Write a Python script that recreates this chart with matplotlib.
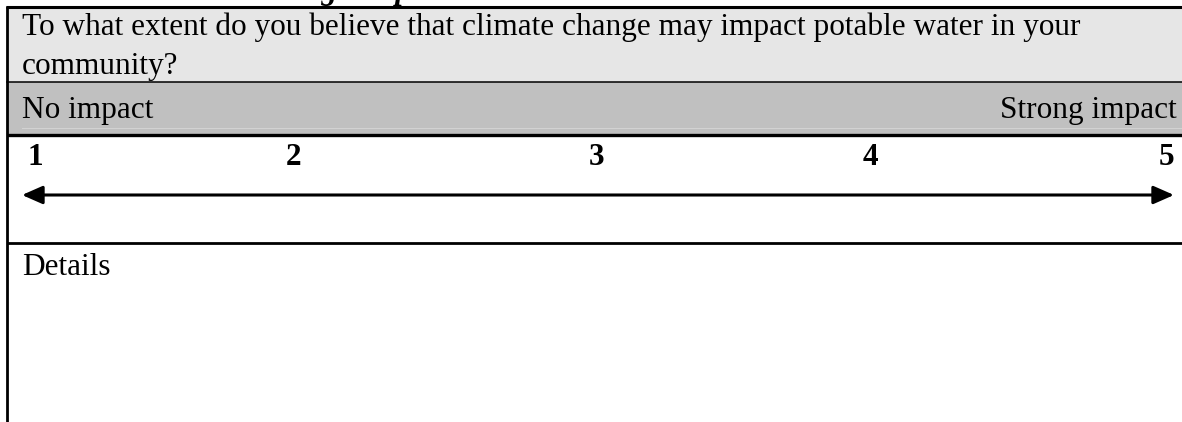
# plot.py
# survey form item: 1-5 Likert scale drawn as a table row with a double arrow

import matplotlib
matplotlib.use("Agg")
import matplotlib.pyplot as plt
from matplotlib.patches import Rectangle, FancyArrowPatch

W, H = 1182, 422

heading = "4.4.4     Climate Change Impacts"
question = ["To what extent do you believe that climate change may impact potable water in your",
            "community?"]
low_label = "No impact"
high_label = "Strong impact"
scale_labels = ["1", "2", "3", "4", "5"]
details_label = "Details"

# layout (pixels)
scale_x = [35, 294, 597, 870, 1166]
FONT = "Liberation Serif"
FS = 22.5

fig = plt.figure(figsize=(W / 100, H / 100), dpi=100)
ax = fig.add_axes([0, 0, 1, 1])
ax.set_xlim(0, W)
ax.set_ylim(H, 0)
ax.axis("off")

# row backgrounds
ax.add_patch(Rectangle((7, 7), W - 7, 75, facecolor="#e6e6e6", edgecolor="none"))
ax.add_patch(Rectangle((7, 82), W - 7, 52, facecolor="#c0c0c0", edgecolor="none"))
ax.plot([22, W], [127.5, 127.5], color="#d2d2d2", lw=0.8)

# grid lines
ax.plot([6, W], [7, 7], color="black", lw=2.2, solid_capstyle="butt")
ax.plot([7, W], [82, 82], color="black", lw=1.1)
ax.plot([7, W], [134.5, 134.5], color="black", lw=2.4, solid_capstyle="butt")
ax.plot([7, W], [243, 243], color="black", lw=2.0, solid_capstyle="butt")
ax.plot([7, 7], [6, H], color="black", lw=2.0, solid_capstyle="butt")

# heading (cut off above the picture, as in the source page)
ax.text(40, -1.5, heading, fontsize=FS, family=FONT, fontweight="bold",
        style="italic", va="baseline", ha="left", zorder=0)

ax.text(22, 35, question[0], fontsize=FS, family=FONT, va="baseline")
ax.text(22, 74, question[1], fontsize=FS, family=FONT, va="baseline")
ax.text(22, 118, low_label, fontsize=FS, family=FONT, va="baseline")
ax.text(1177, 118, high_label, fontsize=FS, family=FONT, va="baseline", ha="right")

for x, lab in zip(scale_x, scale_labels):
    ax.text(x, 165, lab, fontsize=FS, family=FONT, fontweight="bold",
            va="baseline", ha="center")

arrow = FancyArrowPatch((22, 195), (1174, 195),
                        arrowstyle="<|-|>,head_length=12.5,head_width=5.5",
                        mutation_scale=1, lw=2.2, color="black",
                        shrinkA=0, shrinkB=0)
ax.add_patch(arrow)

ax.text(22, 275, details_label, fontsize=FS, family=FONT, va="baseline")

fig.savefig("out.png", dpi=100)
